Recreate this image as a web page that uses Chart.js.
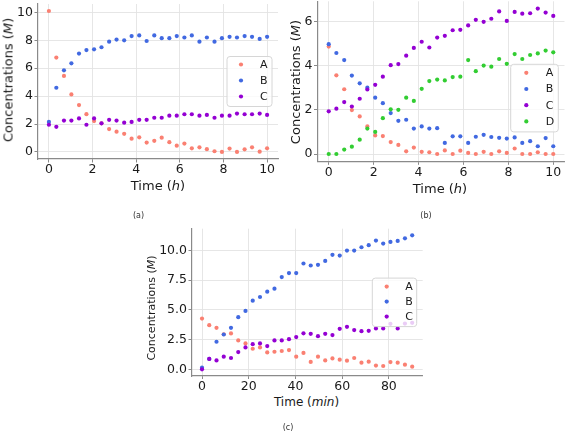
<!DOCTYPE html>
<html>
<head>
<meta charset="utf-8">
<script src="https://cdn.jsdelivr.net/npm/chart.js@4.4.0/dist/chart.umd.min.js"></script>
<style>
  html, body { margin: 0; padding: 0; background: #fff; }
  body { width: 567px; height: 434px; position: relative; overflow: hidden; font-family: 'DejaVu Sans', sans-serif; color: #1a1a1a; }
  canvas { position: absolute; }
  .lbl { position: absolute; white-space: nowrap; line-height: 1; transform: translate(-50%, -50%); }
  .rot { transform: translate(-50%, -50%) rotate(-90deg); }
  .cap { position: absolute; white-space: nowrap; font-size: 8px; color: #333; transform: translate(-50%, -50%); }
</style>
</head>
<body>
<canvas id="chartA" width="285" height="200" style="left:0;top:0"></canvas>
<canvas id="chartB" width="282" height="200" style="left:285px;top:0"></canvas>
<canvas id="chartC" width="300" height="190" style="left:130px;top:205px"></canvas>

<div class="lbl rot" style="left:7.5px;top:80px;font-size:13px">Concentrations (<i>M</i>)</div>
<div class="lbl" style="left:158px;top:184.5px;font-size:13px">Time (<i>h</i>)</div>
<div class="lbl rot" style="left:295px;top:81.5px;font-size:13px">Concentrations (<i>M</i>)</div>
<div class="lbl" style="left:440px;top:188px;font-size:13px">Time (<i>h</i>)</div>
<div class="lbl rot" style="left:150.5px;top:308px;font-size:11px">Concentrations (<i>M</i>)</div>
<div class="lbl" style="left:306.5px;top:402px;font-size:12px">Time (<i>min</i>)</div>

<div class="cap" style="left:138.5px;top:215px">(a)</div>
<div class="cap" style="left:426px;top:215px">(b)</div>
<div class="cap" style="left:288px;top:427px">(c)</div>

<script>
// sampling times
const timeH = [0, 0.34, 0.69, 1.03, 1.38, 1.72, 2.07, 2.41, 2.76, 3.10, 3.45, 3.79, 4.14, 4.48, 4.83,
               5.17, 5.52, 5.86, 6.21, 6.55, 6.90, 7.24, 7.59, 7.93, 8.28, 8.62, 8.97, 9.31, 9.66, 10];
const timeMin = [0, 3.10, 6.21, 9.31, 12.41, 15.52, 18.62, 21.72, 24.83, 27.93, 31.03, 34.14, 37.24, 40.34, 43.45,
                 46.55, 49.66, 52.76, 55.86, 58.97, 62.07, 65.17, 68.28, 71.38, 74.48, 77.59, 80.69, 83.79, 86.90, 90];

// (a)
const aA = [10.1, 6.76, 5.45, 4.12, 3.36, 2.71, 2.21, 2.05, 1.64, 1.45, 1.3, 0.95, 1.05, 0.67, 0.8,
            1.02, 0.7, 0.45, 0.6, 0.26, 0.33, 0.2, 0.05, 0.0, 0.24, 0.0, 0.19, 0.33, 0.02, 0.26];
const aB = [2.15, 4.6, 5.85, 6.35, 7.05, 7.3, 7.35, 7.5, 7.9, 8.05, 8.0, 8.3, 8.35, 7.95, 8.35,
            8.15, 8.15, 8.3, 8.2, 8.35, 7.9, 8.2, 7.9, 8.15, 8.25, 8.2, 8.3, 8.25, 8.1, 8.25];
const aC = [1.95, 1.8, 2.25, 2.25, 2.4, 1.95, 2.4, 2.05, 2.3, 2.25, 2.1, 2.15, 2.3, 2.3, 2.45,
            2.45, 2.6, 2.6, 2.7, 2.7, 2.6, 2.65, 2.45, 2.6, 2.6, 2.75, 2.7, 2.7, 2.75, 2.65];

// (b)
const bA = [4.86, 3.56, 2.93, 1.99, 1.7, 1.25, 0.84, 0.81, 0.54, 0.41, 0.12, 0.29, 0.1, 0.08, 0.0,
            0.16, 0.0, 0.15, 0.05, 0.0, 0.1, 0.0, 0.12, 0.05, 0.25, 0.0, 0.0, 0.08, 0.0, 0.0];
const bB = [4.97, 4.57, 4.25, 3.55, 3.2, 3.0, 2.55, 2.3, 1.85, 1.5, 1.55, 1.15, 1.25, 1.15, 1.17,
            0.5, 0.8, 0.8, 0.5, 0.78, 0.87, 0.77, 0.73, 0.7, 0.75, 0.5, 0.58, 0.35, 0.72, 0.35];
const bC = [1.93, 2.05, 2.35, 2.15, 2.5, 2.92, 3.13, 3.5, 4.02, 4.07, 4.45, 4.8, 5.08, 4.82, 5.27,
            5.35, 5.6, 5.62, 5.82, 6.07, 5.98, 6.12, 6.45, 6.02, 6.43, 6.35, 6.37, 6.58, 6.4, 6.25];
const bD = [0.0, 0.0, 0.2, 0.33, 0.65, 1.15, 1.0, 1.62, 2.02, 2.0, 2.55, 2.4, 2.95, 3.3, 3.37,
            3.33, 3.48, 3.5, 4.25, 3.75, 4.0, 3.95, 4.3, 4.08, 4.52, 4.3, 4.48, 4.55, 4.68, 4.6];

// (c)
const cA = [4.27, 3.72, 3.49, 2.95, 3.02, 2.43, 2.18, 1.73, 1.84, 1.42, 1.48, 1.54, 1.62, 1.06, 1.38,
            0.62, 1.06, 0.75, 0.92, 0.81, 0.73, 0.95, 0.56, 0.64, 0.31, 0.28, 0.61, 0.56, 0.39, 0.22];
const cB = [0.14, 0.87, 2.32, 2.93, 3.49, 4.39, 4.92, 5.78, 6.09, 6.54, 6.79, 7.77, 8.10, 8.10, 8.91,
            8.74, 8.80, 9.13, 9.64, 9.58, 10.0, 10.0, 10.28, 10.45, 10.84, 10.59, 10.73, 10.81, 11.03, 11.28];
const cC = [0.0, 0.87, 0.75, 1.06, 0.95, 1.45, 1.84, 2.12, 2.18, 1.96, 2.43, 2.43, 2.54, 2.71, 3.03,
            2.99, 2.79, 2.99, 2.88, 3.41, 3.58, 3.30, 3.21, 3.24, 3.44, 3.44, 3.83, 3.44, 3.85, 3.91];

const COLORS = { A: '#fa8072', B: '#4169e1', C: '#9400d3', D: '#32cd32' };
const INK = '#1a1a1a';
const SPINE = '#8a8a8a';

Chart.defaults.font.family = "'DejaVu Sans', sans-serif";
Chart.defaults.color = INK;

function series(label, xs, ys, order) {
  return {
    label,
    data: xs.map((x, i) => ({ x, y: ys[i] })),
    backgroundColor: COLORS[label],
    borderWidth: 0,
    pointRadius: 2.1,
    pointHoverRadius: 2.1,
    order // later series drawn on top, like matplotlib
  };
}

// legend box drawn inside the plot area
const boxLegend = {
  id: 'boxLegend',
  afterDatasetsDraw(chart, args, o) {
    const ctx = chart.ctx, area = chart.chartArea;
    const sets = chart.data.datasets;
    const h = o.padTop + o.rowH * (sets.length - 1) + o.padBottom;
    const x = area.right - o.right - o.width;
    const y = o.top !== undefined ? area.top + o.top : (area.top + area.bottom) / 2 - h / 2;
    ctx.save();
    ctx.beginPath();
    ctx.roundRect(x, y, o.width, h, 3);
    ctx.fillStyle = 'rgba(255,255,255,0.8)';
    ctx.fill();
    ctx.strokeStyle = '#d6d6d6';
    ctx.lineWidth = 1;
    ctx.stroke();
    ctx.font = o.font + "px 'DejaVu Sans', sans-serif";
    ctx.textBaseline = 'middle';
    sets.forEach((ds, i) => {
      const cy = y + o.padTop + i * o.rowH;
      ctx.beginPath();
      ctx.arc(x + o.markerX, cy, ds.pointRadius, 0, Math.PI * 2);
      ctx.fillStyle = ds.backgroundColor;
      ctx.fill();
      ctx.fillStyle = INK;
      ctx.fillText(ds.label, x + o.textX, cy + 0.5);
    });
    ctx.restore();
  }
};

function axes(o) {
  const grid = { color: '#e3e3e3', lineWidth: 0.9, drawTicks: true, tickLength: o.tick, tickColor: SPINE, tickWidth: 1 };
  const border = { display: true, color: SPINE, width: 1.2 };
  return {
    x: {
      type: 'linear', min: o.xMin, max: o.xMax, grid, border,
      ticks: { stepSize: o.xStep, includeBounds: false, padding: 0, maxRotation: 0, color: INK, font: { size: o.font } },
      afterFit(s) { s.height = o.xHeight; s.paddingLeft = 0; s.paddingRight = 0; }
    },
    y: {
      type: 'linear', min: o.yMin, max: o.yMax, grid, border,
      ticks: { stepSize: o.yStep, includeBounds: false, padding: 1.5, color: INK, font: { size: o.font },
               callback: o.yFmt || (v => v) },
      afterFit(s) { s.width = o.yWidth; s.paddingTop = 0; s.paddingBottom = 0; }
    }
  };
}

function makeChart(id, datasets, pad, scaleOpts, legendOpts) {
  return new Chart(document.getElementById(id), {
    type: 'scatter',
    data: { datasets },
    options: {
      responsive: false,
      animation: false,
      layout: { padding: pad, autoPadding: false },
      scales: axes(scaleOpts),
      plugins: { legend: { display: false }, tooltip: { enabled: false }, boxLegend: legendOpts }
    },
    plugins: [boxLegend]
  });
}

const chartA = makeChart('chartA',
  [series('A', timeH, aA, 3), series('B', timeH, aB, 2), series('C', timeH, aC, 1)],
  { left: 0, top: 4, right: 7, bottom: 0 },
  { xMin: -0.5, xMax: 10.5, xStep: 2, yMin: -0.505, yMax: 10.6, yStep: 2, yWidth: 38, xHeight: 41, font: 12.5, tick: 3.5 },
  { width: 45, right: 6, padTop: 8, rowH: 16, padBottom: 10, markerX: 14, textX: 33, font: 11 });

const chartB = makeChart('chartB',
  [series('A', timeH, bA, 4), series('B', timeH, bB, 3), series('C', timeH, bC, 2), series('D', timeH, bD, 1)],
  { left: 0, top: 1.3, right: 2.5, bottom: 0 },
  { xMin: -0.5, xMax: 10.5, xStep: 2, yMin: -0.33, yMax: 6.91, yStep: 2, yWidth: 32.5, xHeight: 38.7, font: 12.5, tick: 3.5 },
  { width: 47.6, right: 6.2, top: 63, padTop: 8.5, rowH: 16.2, padBottom: 10.5, markerX: 15.6, textX: 35, font: 11 });

const chartC = makeChart('chartC',
  [series('A', timeMin, cA, 3), series('B', timeMin, cB, 2), series('C', timeMin, cC, 1)],
  { left: 0, top: 23.7, right: 7.3, bottom: 0 },
  { xMin: -4.5, xMax: 94.5, xStep: 20, yMin: -0.564, yMax: 11.84, yStep: 2.5, yWidth: 61.5, xHeight: 19, font: 12.5, tick: 3,
    yFmt: v => v.toFixed(1) },
  { width: 44.4, right: 6, padTop: 8.5, rowH: 15, padBottom: 10, markerX: 14.4, textX: 33, font: 11 });
</script>
</body>
</html>
